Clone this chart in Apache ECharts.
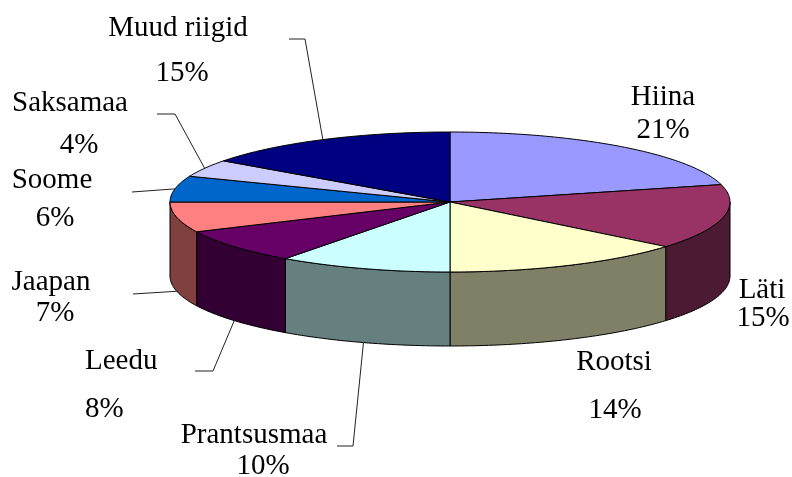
<!DOCTYPE html>
<html><head><meta charset="utf-8">
<script src="https://cdn.jsdelivr.net/npm/echarts@6/dist/echarts.min.js"></script>
<style>html,body{margin:0;padding:0;background:#fff}#c{width:792px;height:477px}</style>
</head><body><div id="c"></div>
<script>
// ---- data ----
const categories = ['Hiina', 'Läti', 'Rootsi', 'Prantsusmaa', 'Leedu', 'Jaapan', 'Soome', 'Saksamaa', 'Muud riigid'];
const values = [21, 15, 14, 10, 8, 7, 6, 4, 15];
const pctLabels = ['21%', '15%', '14%', '10%', '8%', '7%', '6%', '4%', '15%'];

// ---- styles ----
const topColors = ['#9999FF', '#993366', '#FFFFCC', '#CCFFFF', '#660066', '#FF8080', '#0066CC', '#CCCCFF', '#000080'];
const sideColors = ['#4D4D80', '#4D1A33', '#808066', '#668080', '#330033', '#804040', '#003366', '#666680', '#000040'];

// ---- layout ----
const PIE = { cx: 450, cy: 202, rx: 280, ry: 70, depth: 74 };
const FONT_FAMILY = '"Liberation Serif", "Times New Roman", serif';
const FONT_SIZE = 29;
const labelLayout = [
  { name: [663, 97, 'center'], pct: [663, 130, 'center'], leader: null },
  { name: [762, 290, 'center'], pct: [763, 318, 'center'], leader: null },
  { name: [614, 362, 'center'], pct: [615, 410, 'center'], leader: null },
  { name: [254, 435, 'center'], pct: [263, 466, 'center'], leader: [[337, 446], [353, 446]] },
  { name: [85, 361, 'left'], pct: [85, 409, 'left'], leader: [[195, 371], [213, 371]] },
  { name: [51, 282, 'center'], pct: [55, 313, 'center'], leader: [[133, 294]] },
  { name: [52, 180, 'center'], pct: [55, 218, 'center'], leader: [[132, 192]] },
  { name: [70, 103, 'center'], pct: [79, 145, 'center'], leader: [[157, 114], [175, 114]] },
  { name: [178, 28, 'center'], pct: [182, 73, 'center'], leader: [[289, 39], [305, 39]] }
];

const total = values.reduce((a, b) => a + b, 0);
const starts = [];
values.reduce((acc, v, i) => { starts[i] = acc; return acc + v; }, 0);

function pt(deg, dz) {
  const r = deg * Math.PI / 180;
  return [PIE.cx + PIE.rx * Math.sin(r), PIE.cy - PIE.ry * Math.cos(r) + dz];
}
function arc(a0, a1, dz) {
  const n = Math.max(2, Math.ceil(a1 - a0));
  const out = [];
  for (let k = 0; k <= n; k++) out.push(pt(a0 + (a1 - a0) * k / n, dz));
  return out;
}

function textEl(str, p) {
  return {
    type: 'text', z2: 30,
    style: { text: str, x: p[0], y: p[1], fontFamily: FONT_FAMILY, fontSize: FONT_SIZE, fill: '#000',
      textAlign: p[2], textVerticalAlign: 'middle', align: p[2], verticalAlign: 'middle' }
  };
}

function renderItem(params, api) {
  const i = params.dataIndex;
  const v = api.value(0), s = api.value(1);
  const a0 = s / total * 360, a1 = (s + v) / total * 360;
  const children = [];
  children.push({
    type: 'polygon', z2: 10,
    shape: { points: [[PIE.cx, PIE.cy]].concat(arc(a0, a1, 0)) },
    style: { fill: topColors[i], stroke: '#000', lineWidth: 1 }
  });
  const s0 = Math.max(a0, 90), s1 = Math.min(a1, 270);
  if (s1 > s0) {
    children.push({
      type: 'polygon', z2: 1,
      shape: { points: arc(s0, s1, 0).concat(arc(s0, s1, PIE.depth).reverse()) },
      style: { fill: sideColors[i], stroke: '#000', lineWidth: 1 }
    });
  }
  const L = labelLayout[i];
  const mid = (a0 + a1) / 2;
  if (L.leader) {
    const front = Math.cos(mid * Math.PI / 180) < 0;
    const end = pt(mid, front ? PIE.depth : 0);
    children.push({
      type: 'polyline', z2: 20,
      shape: { points: L.leader.concat([end]) },
      style: { fill: null, stroke: '#222', lineWidth: 1 }
    });
  }
  children.push(textEl(categories[i], L.name));
  children.push(textEl(pctLabels[i], L.pct));
  return { type: 'group', children: children };
}

const chart = echarts.init(document.getElementById('c'), null, { renderer: 'canvas' });
chart.setOption({
  backgroundColor: '#fff',
  animation: false,
  series: [{
    type: 'custom',
    coordinateSystem: 'none',
    renderItem: renderItem,
    data: values.map((v, i) => [v, starts[i]])
  }]
});
</script>
</body></html>
